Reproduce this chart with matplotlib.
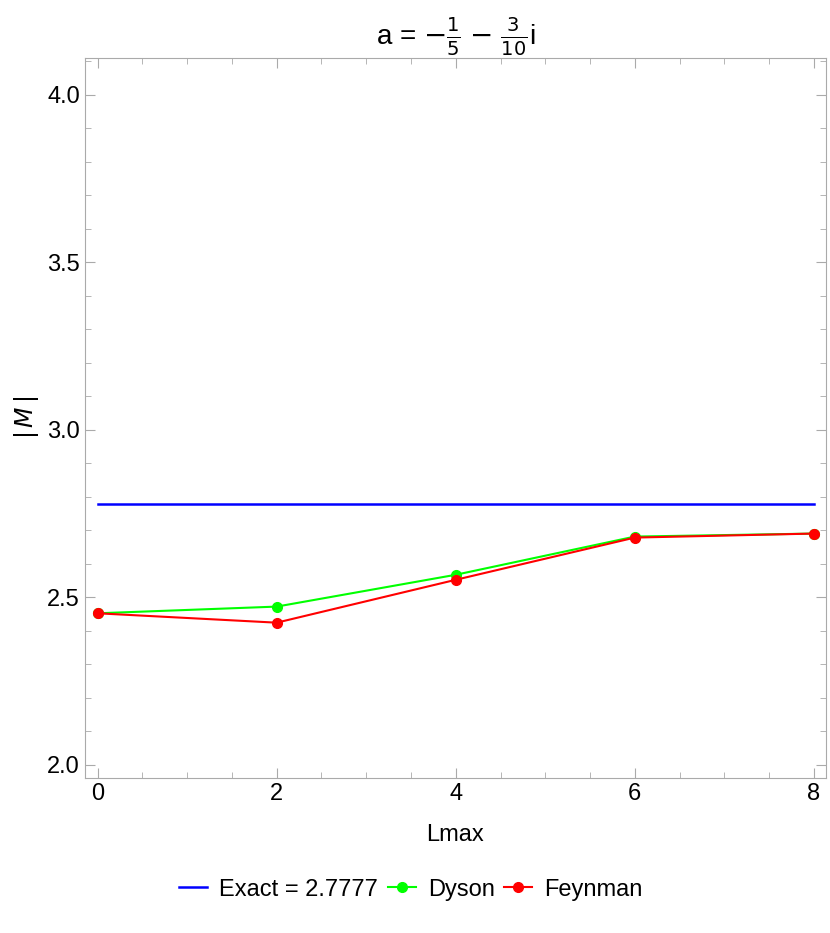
import matplotlib
matplotlib.use("Agg")
import matplotlib.pyplot as plt
from matplotlib.ticker import MultipleLocator

lmax = [0, 2, 4, 6, 8]
dyson = [2.452, 2.472, 2.567, 2.681, 2.690]
feynman = [2.452, 2.424, 2.552, 2.678, 2.690]
exact = 2.7777

plt.rcParams["font.family"] = ["Liberation Sans", "DejaVu Sans"]
fig = plt.figure(figsize=(8.3, 9.33), dpi=100)
ax = fig.add_axes([0.102, 0.166, 0.893, 0.772])

ax.plot([0, 8], [exact, exact], color="#0000ff", lw=1.8, label="Exact = 2.7777")
ax.plot(lmax, dyson, color="#00ff00", lw=1.5, marker="o", ms=7, label="Dyson")
ax.plot(lmax, feynman, color="#ff0000", lw=1.5, marker="o", ms=7, label="Feynman")

ax.set_xlim(-0.145, 8.134)
ax.set_ylim(1.96, 4.11)
ax.xaxis.set_major_locator(MultipleLocator(2))
ax.xaxis.set_minor_locator(MultipleLocator(0.5))
ax.yaxis.set_major_locator(MultipleLocator(0.5))
ax.yaxis.set_minor_locator(MultipleLocator(0.1))
ax.tick_params(which="both", direction="in", top=True, right=True,
               labeltop=False, labelright=False, colors="#aaaaaa", labelcolor="black",
               labelsize=17)
ax.tick_params(which="major", length=7)
ax.tick_params(which="minor", length=4)
for s in ax.spines.values():
    s.set_color("#aaaaaa")

ax.set_xlabel("Lmax", fontsize=17, labelpad=14)
ax.set_ylabel(r"$|\,M\,|$", fontsize=17)
ax.set_title(r"a = $-\frac{1}{5}$ $-$ $\frac{3}{10}$i", fontsize=20, pad=6)

ax.legend(loc="upper center", bbox_to_anchor=(0.44, -0.11), ncol=3, frameon=False,
          fontsize=17, handlelength=1.2, handletextpad=0.5, columnspacing=0.4)

fig.savefig("out.png", dpi=100)
